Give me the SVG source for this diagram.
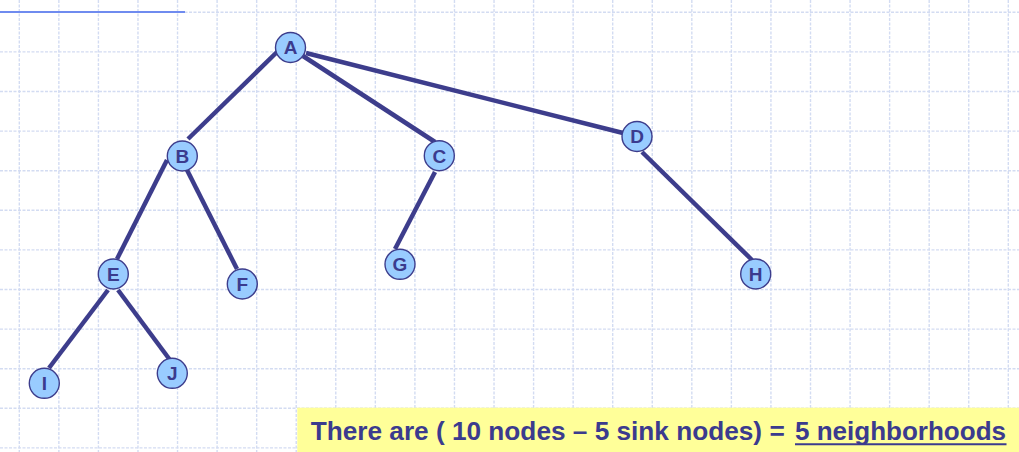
<svg xmlns="http://www.w3.org/2000/svg" width="1019" height="452" viewBox="0 0 1019 452">
<style>
.grid{stroke:#D3DCF2;stroke-width:1.4;stroke-dasharray:3 1.5;fill:none}
.edge{stroke:#3D3D8C;stroke-width:4.5;stroke-linecap:butt;fill:none}
.node circle{fill:#99CCFF;stroke:#3D3D8C;stroke-width:1.4}
.node text{font-family:"Liberation Sans",Arial,sans-serif;font-weight:bold;font-size:19px;fill:#3B3B8E;text-anchor:middle}
.note{font-family:"Liberation Sans",Arial,sans-serif;font-weight:bold;font-size:26px;fill:#3B3B8E}
</style>
<rect width="1019" height="452" fill="#FFFFFF"/>
<g id="grid">
<path class="grid" d="M19.3 0V452M58.86 0V452M98.42 0V452M137.98 0V452M177.54 0V452M217.1 0V452M256.66 0V452M296.22 0V452M335.78 0V452M375.34 0V452M414.9 0V452M454.46 0V452M494.02 0V452M533.58 0V452M573.14 0V452M612.7 0V452M652.26 0V452M691.82 0V452M731.38 0V452M770.94 0V452M810.5 0V452M850.06 0V452M889.62 0V452M929.18 0V452M968.74 0V452M1008.3 0V452"/>
<path class="grid" d="M0 12.3H1019M0 51.9H1019M0 91.5H1019M0 131.1H1019M0 170.7H1019M0 210.3H1019M0 249.9H1019M0 289.5H1019M0 329.1H1019M0 368.7H1019M0 408.3H1019M0 447.9H1019"/>
</g>
<line x1="0" y1="12" x2="185" y2="12" stroke="#6F8BEF" stroke-width="2.2"/>
<g id="connectors">
<line class="edge" x1="277" y1="52" x2="188" y2="139"/>
<line class="edge" x1="303" y1="56" x2="435" y2="142"/>
<line class="edge" x1="306" y1="53" x2="623" y2="133"/>
<line class="edge" x1="167" y1="160" x2="117" y2="259"/>
<line class="edge" x1="187" y1="170" x2="237" y2="269"/>
<line class="edge" x1="435" y1="172" x2="395" y2="249"/>
<line class="edge" x1="642" y1="152" x2="752" y2="260"/>
<line class="edge" x1="108" y1="290" x2="49" y2="368"/>
<line class="edge" x1="118" y1="290" x2="170" y2="360"/>
</g>
<g id="A" class="node"><circle cx="290.5" cy="47.5" r="15"/><text x="290.5" y="54.3">A</text></g>
<g id="B" class="node"><circle cx="182.3" cy="156" r="15"/><text x="182.3" y="162.8">B</text></g>
<g id="C" class="node"><circle cx="439.3" cy="155.7" r="15"/><text x="439.3" y="162.5">C</text></g>
<g id="D" class="node"><circle cx="637" cy="136.5" r="15"/><text x="637" y="143.3">D</text></g>
<g id="E" class="node"><circle cx="113.3" cy="274" r="15"/><text x="113.3" y="280.8">E</text></g>
<g id="F" class="node"><circle cx="242.3" cy="284" r="15"/><text x="242.3" y="290.8">F</text></g>
<g id="G" class="node"><circle cx="400" cy="264.3" r="15"/><text x="400" y="271.1">G</text></g>
<g id="H" class="node"><circle cx="755.7" cy="274" r="15"/><text x="755.7" y="280.8">H</text></g>
<g id="I" class="node"><circle cx="44.3" cy="383.3" r="15"/><text x="44.3" y="390.1">I</text></g>
<g id="J" class="node"><circle cx="172.3" cy="373.3" r="15"/><text x="172.3" y="380.1">J</text></g>
<g id="note">
<rect x="297.3" y="407.7" width="722" height="45" fill="#FFFF99"/>
<text class="note" x="310.7" y="440.3" textLength="474" lengthAdjust="spacingAndGlyphs">There are ( 10 nodes – 5 sink nodes) =</text>
<text class="note" x="795" y="440.3" textLength="211" lengthAdjust="spacingAndGlyphs">5 neighborhoods</text>
<line x1="795" y1="444.3" x2="1006.5" y2="444.3" stroke="#3B3B8E" stroke-width="2"/>
</g>
</svg>
